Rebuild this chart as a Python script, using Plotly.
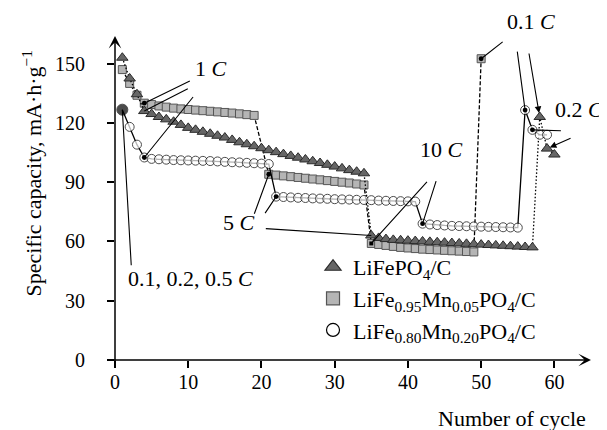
import plotly.graph_objects as go

# ---------------- data ----------------
cycles_lfp = list(range(1, 61))
cap_lfp = [153, 142.5, 134.5,
           126, 124.5, 123, 121.8, 120.6, 119, 117.5, 116.5, 115.5, 114.5, 113.5, 112.6,
           111.4, 110.2, 109.2, 108.2, 107.2, 106.2, 105.2, 104.2, 103.3, 102.4, 101.5,
           100.6, 99.7, 98.8, 97.9, 97.0, 96.1, 95.3, 94.5,
           63, 61.8, 61.2, 60.8, 60.6, 60.4, 60.2, 60, 59.8, 59.6, 59.4, 59.2, 59, 58.8,
           58.6, 58.4, 58.2, 58, 57.8, 57.6, 57.4, 57.2, 57,
           123, 107, 104]

cycles_m05 = list(range(1, 20)) + list(range(21, 51))
cap_m05 = [147, 140, 134, 130, 129.3, 128.6, 128, 127.5, 127.1, 126.8, 126.5, 126.2,
           125.9, 125.6, 125.3, 125, 124.6, 124.2, 123.8,
           94, 93.6, 93.2, 92.8, 92.4, 92, 91.6, 91.2, 90.8, 90.4, 90, 89.6, 89.1, 88.6,
           59, 58.5, 58, 57.5, 57, 56.7, 56.4, 56.1, 55.9, 55.7, 55.5, 55.3, 55.1, 54.9, 54.7,
           152.5]

cycles_m20 = list(range(1, 60))
cap_m20 = [126.7, 118, 109,
           102.5, 101.8, 101.6, 101.4, 101.2, 101.1, 101, 100.9, 100.8, 100.7, 100.5,
           100.3, 100.1, 100, 99.8, 99.6, 99.4, 99.2,
           82.7, 82.5, 82.3, 82.1, 82, 81.8, 81.7, 81.6, 81.4, 81.3, 81.2, 81.1, 81, 80.9,
           80.7, 80.6, 80.5, 80.4, 80.3, 80.2,
           69, 68.6, 68.3, 68.1, 67.9, 67.8, 67.7, 67.6, 67.5, 67.4, 67.3, 67.2, 67.1, 67,
           126.5, 116.5, 114, 114]

x_ticks = [0, 10, 20, 30, 40, 50, 60]
y_ticks = [0, 30, 60, 90, 120, 150]

names = ["LiFePO<sub>4</sub>/C",
         "LiFe<sub>0.95</sub>Mn<sub>0.05</sub>PO<sub>4</sub>/C",
         "LiFe<sub>0.80</sub>Mn<sub>0.20</sub>PO<sub>4</sub>/C"]

FONT = "Times New Roman, Liberation Serif, Tinos, Times, serif"
FS = 22
TFS = 20

TRI_FILL, TRI_LINE = "#666666", "#2a2a2a"
SQ_FILL, SQ_LINE = "#b5b5b5", "#555555"

fig = go.Figure()

fig.add_trace(go.Scatter(
    x=cycles_m05, y=cap_m05, mode="lines+markers", showlegend=False,
    line=dict(color="black", width=1.3, dash="4px,2px"),
    marker=dict(symbol="square", size=8, color=SQ_FILL, line=dict(color=SQ_LINE, width=1))))
fig.add_trace(go.Scatter(
    x=cycles_lfp, y=cap_lfp, mode="lines+markers", showlegend=False,
    line=dict(color="black", width=1.3, dash="1.5px,2px"),
    marker=dict(symbol="triangle-up", size=10, color=TRI_FILL, line=dict(color=TRI_LINE, width=1))))
circ_fill = ["black"] + ["white"] * (len(cap_m20) - 1)
circ_size = [11] + [9] * (len(cap_m20) - 1)
fig.add_trace(go.Scatter(
    x=cycles_m20, y=cap_m20, mode="lines+markers", showlegend=False,
    line=dict(color="black", width=1.3),
    marker=dict(symbol="circle", size=circ_size, color=circ_fill, line=dict(color="black", width=1))))

# legend-only entries
fig.add_trace(go.Scatter(x=[None], y=[None], mode="markers", name=names[0],
                         marker=dict(symbol="triangle-up", size=14, color=TRI_FILL,
                                     line=dict(color=TRI_LINE, width=1.2))))
fig.add_trace(go.Scatter(x=[None], y=[None], mode="markers", name=names[1],
                         marker=dict(symbol="square", size=13, color=SQ_FILL,
                                     line=dict(color=SQ_LINE, width=1.2))))
fig.add_trace(go.Scatter(x=[None], y=[None], mode="markers", name=names[2],
                         marker=dict(symbol="circle", size=13, color="white",
                                     line=dict(color="black", width=1.2))))


def pt(xs, ys, c):
    i = xs.index(c)
    return xs[i], ys[i]


def leader(xs, ys, c, ax, ay, head=0, size=1.0, standoff=0):
    x, y = pt(xs, ys, c)
    fig.add_annotation(x=x, y=y, xref="x", yref="y", ax=ax, ay=ay,
                       axref="pixel", ayref="pixel", text="", showarrow=True,
                       arrowhead=head, arrowsize=size, arrowwidth=1.1,
                       arrowcolor="black", standoff=standoff)


L, M, C = (cycles_lfp, cap_lfp), (cycles_m05, cap_m05), (cycles_m20, cap_m20)
# 1 C
leader(*M, 4, 47, -23, head=6, size=1.1)
leader(*L, 4, 45, -23, head=0)
leader(*C, 4, 50, -62, head=6, size=1.1)
# 0.1, 0.2, 0.5 C
leader(*C, 1, 9, 157, head=0)
# 5 C
leader(*M, 21, -15, 41, head=6, size=1.1)
leader(*C, 22, -12, 18, head=6, size=1.1)
leader(*L, 35, -107, -7, head=0)
# 10 C
leader(*M, 35, 57, -63, head=7, size=0.9)
leader(*C, 42, 14, -44, head=6, size=1.1)
# 0.1 C
leader(*M, 50, 23, -18, head=6, size=1.1)
leader(*C, 56, -8, -60, head=6, size=1.1)
leader(*L, 58, -11, -65, head=2, size=1.2, standoff=4)
# 0.2 C
leader(*C, 57, 30, 1, head=6, size=1.1)
leader(*L, 59, 25, -11, head=2, size=1.2, standoff=3)

# text labels (paper positions)
dy = 0.025
labels = [("1 <i>C</i>", 0.2017, 0.875, "center"),
          ("0.1, 0.2, 0.5 <i>C</i>", 0.1576, 0.227, "center"),
          ("5 <i>C</i>", 0.2605, 0.398, "center"),
          ("10 <i>C</i>", 0.6855, 0.625, "center"),
          ("0.1 <i>C</i>", 0.8746, 1.021, "center"),
          ("0.2 <i>C</i>", 1.030, 0.748, "right")]
for t, px, py, xa in labels:
    fig.add_annotation(x=px, y=py + dy, xref="paper", yref="paper", text=t, showarrow=False,
                       xanchor=xa, yanchor="middle",
                       font=dict(family=FONT, size=FS, color="black"))

# axis lines with arrows
fig.add_annotation(x=1, y=0, xref="paper", yref="paper", ax=-483, ay=0,
                   axref="pixel", ayref="pixel", text="", showarrow=True,
                   arrowhead=3, arrowsize=1.4, arrowwidth=1.5, arrowcolor="black")
fig.add_annotation(x=0, y=1, xref="paper", yref="paper", ax=0, ay=331,
                   axref="pixel", ayref="pixel", text="", showarrow=True,
                   arrowhead=3, arrowsize=1.4, arrowwidth=1.5, arrowcolor="black")

# axis titles
fig.add_annotation(x=0.993, y=-0.2 + dy - 0.005, xref="paper", yref="paper",
                   text="Number of cycle",
                   showarrow=False, xanchor="right", yanchor="middle",
                   font=dict(family=FONT, size=FS, color="black"))
fig.add_annotation(x=-0.174, y=0.576, xref="paper", yref="paper",
                   text="Specific capacity, mA·h·g<sup>−1</sup>", textangle=-90,
                   showarrow=False, xanchor="center", yanchor="middle",
                   font=dict(family=FONT, size=FS, color="black"))

fig.update_layout(
    width=607, height=430,
    margin=dict(l=107, r=24, t=28, b=78),
    paper_bgcolor="white", plot_bgcolor="white",
    font=dict(family=FONT, size=FS, color="black"),
    legend=dict(x=0.416, y=0.352, xanchor="left", yanchor="top",
                bgcolor="rgba(0,0,0,0)", font=dict(family=FONT, size=FS),
                itemsizing="trace", tracegroupgap=0),
    xaxis=dict(range=[0, 65], tickvals=x_ticks, ticks="outside", ticklen=7,
               tickwidth=1.5, tickcolor="black", showline=False, showgrid=False,
               zeroline=False, tickfont=dict(family=FONT, size=TFS),
               ticklabelstandoff=-3),
    yaxis=dict(range=[0, 164], tickvals=y_ticks, ticks="outside", ticklen=7,
               tickwidth=1.5, tickcolor="black", showline=False, showgrid=False,
               zeroline=False, tickfont=dict(family=FONT, size=TFS),
               ticklabelstandoff=18),
)

fig.write_html("out.html")
